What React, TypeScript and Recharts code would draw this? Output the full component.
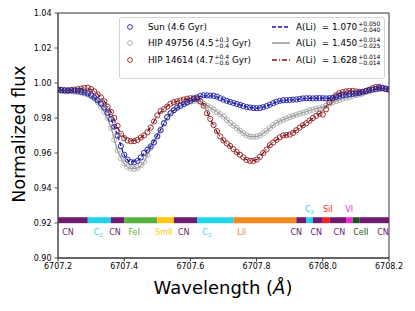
import { ComposedChart, Line, ReferenceArea, Scatter, XAxis, YAxis } from "recharts";

const FONT = "DejaVu Sans, sans-serif";

// 0.01 Å sampling of the observed spectra
const wave = Array.from({ length: 101 }, (_, i) => +(6707.2 + i * 0.01).toFixed(2));

const sunFlux = [
  0.9963, 0.996, 0.9958, 0.9957, 0.9958, 0.9956, 0.9955, 0.995, 0.9946, 0.994,
  0.993, 0.9917, 0.99, 0.9882, 0.986, 0.983, 0.9795, 0.975, 0.97, 0.964,
  0.959, 0.9562, 0.9548, 0.9546, 0.9555, 0.9575, 0.96, 0.9618, 0.9638, 0.966,
  0.9695, 0.973, 0.977, 0.9805, 0.9828, 0.9845, 0.986, 0.987, 0.988, 0.989,
  0.9898, 0.9908, 0.9918, 0.9926, 0.993, 0.9929, 0.9928, 0.9927, 0.9922, 0.9913,
  0.9905, 0.9898, 0.9892, 0.9886, 0.988, 0.9875, 0.9868, 0.9863, 0.986, 0.9857,
  0.9856, 0.9857, 0.9862, 0.9868, 0.9876, 0.9885, 0.9893, 0.9898, 0.9901, 0.9902,
  0.9903, 0.9905, 0.9906, 0.9909, 0.9912, 0.9913, 0.9913, 0.9912, 0.9913, 0.9914,
  0.9913, 0.9912, 0.9913, 0.9915, 0.992, 0.9925, 0.993, 0.9933, 0.9935, 0.9938,
  0.994, 0.9943, 0.9948, 0.9953, 0.9958, 0.9962, 0.9966, 0.997, 0.9972, 0.9968,
  0.9964,
];

const hip49756Flux = [
  0.9955, 0.9953, 0.9952, 0.9952, 0.9953, 0.995, 0.9948, 0.9945, 0.994, 0.9935,
  0.9925, 0.991, 0.989, 0.9865, 0.9835, 0.98, 0.9745, 0.9675, 0.9615, 0.957,
  0.954, 0.952, 0.9512, 0.9509, 0.9514, 0.953, 0.955, 0.959, 0.963, 0.9665,
  0.97, 0.9735, 0.977, 0.98, 0.9825, 0.9843, 0.9857, 0.9867, 0.9878, 0.9887,
  0.9893, 0.9897, 0.99, 0.9893, 0.9882, 0.987, 0.986, 0.9848, 0.9835, 0.9822,
  0.9808, 0.979, 0.9772, 0.9757, 0.9743, 0.9728, 0.9713, 0.9702, 0.9694, 0.9692,
  0.9694, 0.97, 0.9712, 0.9728, 0.9742, 0.9758, 0.9772, 0.9782, 0.979, 0.9797,
  0.9805, 0.9812, 0.9818, 0.9824, 0.983, 0.9836, 0.9843, 0.9848, 0.9853, 0.9856,
  0.9862, 0.987, 0.988, 0.9888, 0.9897, 0.9904, 0.991, 0.9915, 0.992, 0.9926,
  0.9931, 0.9935, 0.994, 0.9948, 0.9955, 0.996, 0.9962, 0.9965, 0.9966, 0.9964,
  0.996,
];

const hip14614Flux = [
  0.9962, 0.996, 0.9958, 0.9958, 0.996, 0.9962, 0.9965, 0.9968, 0.9972, 0.9973,
  0.9965, 0.9952, 0.9935, 0.9918, 0.9895, 0.9865, 0.9835, 0.98, 0.9755, 0.971,
  0.9685, 0.9672, 0.9667, 0.9668, 0.9675, 0.9688, 0.97, 0.9718, 0.9745, 0.978,
  0.9815, 0.984, 0.985, 0.9865, 0.9882, 0.989, 0.9895, 0.99, 0.9905, 0.991,
  0.9913, 0.9913, 0.991, 0.9895, 0.987, 0.9828, 0.9795, 0.976, 0.9725, 0.9695,
  0.9672, 0.9655, 0.964, 0.9622, 0.9605, 0.959, 0.9575, 0.956, 0.9555, 0.9555,
  0.9562, 0.9578, 0.96, 0.962, 0.9645, 0.966, 0.9675, 0.969, 0.97, 0.9703,
  0.9705, 0.9715, 0.973, 0.9745, 0.9758, 0.977, 0.9785, 0.98, 0.9812, 0.9825,
  0.982, 0.985, 0.989, 0.9912, 0.993, 0.9942, 0.9948, 0.9952, 0.9955, 0.9955,
  0.9952, 0.995, 0.995, 0.9955, 0.9962, 0.997, 0.9977, 0.9978, 0.9972, 0.9966,
  0.9962,
];

// synthetic fits, 0.02 Å sampling
const modelWave = Array.from({ length: 51 }, (_, i) => +(6707.2 + i * 0.02).toFixed(2));

const sunModel = [
  0.9962, 0.9958, 0.9957, 0.9954, 0.9946, 0.993, 0.99, 0.986, 0.9795, 0.97,
  0.959, 0.955, 0.9556, 0.9598, 0.964, 0.9698, 0.9768, 0.9826, 0.9858, 0.988,
  0.9898, 0.9916, 0.9927, 0.9927, 0.992, 0.9905, 0.9892, 0.988, 0.9868, 0.986,
  0.9857, 0.9862, 0.9876, 0.9892, 0.99, 0.9903, 0.9906, 0.9911, 0.9913, 0.9913,
  0.9913, 0.9913, 0.992, 0.9929, 0.9935, 0.994, 0.9948, 0.9957, 0.9965, 0.997,
  0.9966,
];

const hip49756Model = [
  0.9955, 0.9952, 0.9953, 0.9948, 0.994, 0.9925, 0.989, 0.9835, 0.9745, 0.9615,
  0.954, 0.9512, 0.9514, 0.955, 0.963, 0.97, 0.977, 0.9825, 0.9857, 0.9878,
  0.9893, 0.99, 0.9882, 0.986, 0.9835, 0.9808, 0.9772, 0.9743, 0.9713, 0.9694,
  0.9694, 0.9712, 0.9742, 0.9772, 0.979, 0.9805, 0.9818, 0.983, 0.9843, 0.9853,
  0.9862, 0.988, 0.9897, 0.991, 0.992, 0.9931, 0.994, 0.9955, 0.9962, 0.9966,
  0.996,
];

const hip14614Model = [
  0.9962, 0.9958, 0.996, 0.9965, 0.997, 0.9962, 0.9935, 0.9895, 0.9835, 0.9745,
  0.969, 0.967, 0.9676, 0.9702, 0.9748, 0.9812, 0.9852, 0.988, 0.9895, 0.9905,
  0.9912, 0.991, 0.9872, 0.9795, 0.9722, 0.967, 0.9638, 0.9604, 0.9574, 0.9556,
  0.9562, 0.96, 0.9645, 0.9675, 0.9698, 0.9708, 0.973, 0.9758, 0.9785, 0.9812,
  0.984, 0.9888, 0.993, 0.9948, 0.9955, 0.9953, 0.995, 0.996, 0.9975, 0.9972,
  0.9962,
];

// line list
const segStart = [6707.2, 6707.29, 6707.36, 6707.4, 6707.5, 6707.55, 6707.62, 6707.73, 6707.92, 6707.95, 6707.97, 6708.0, 6708.02, 6708.07, 6708.09, 6708.11];
const segEnd = [6707.29, 6707.36, 6707.4, 6707.5, 6707.55, 6707.62, 6707.73, 6707.92, 6707.95, 6707.97, 6708.0, 6708.02, 6708.07, 6708.09, 6708.11, 6708.2];
const segSpecies = ["CN", "C2", "CN", "FeI", "SmII", "CN", "C2", "LiI", "CN", "C2", "CN", "SiI", "CN", "VI", "CeII", "CN"];

const labelSpecies = ["CN", "C2", "CN", "FeI", "SmII", "CN", "C2", "LiI", "CN", "CN", "CN", "CeII", "CN", "C2", "SiI", "VI"];
const labelWave = [6707.23, 6707.317, 6707.372, 6707.43, 6707.52, 6707.58, 6707.645, 6707.755, 6707.92, 6707.98, 6708.05, 6708.115, 6708.182, 6707.955, 6708.015, 6708.08];
const labelAbove = [false, false, false, false, false, false, false, false, false, false, false, false, false, true, true, true];

const xTicks = [6707.2, 6707.4, 6707.6, 6707.8, 6708.0, 6708.2];
const yTicks = [0.9, 0.92, 0.94, 0.96, 0.98, 1.0, 1.02, 1.04];

const speciesColor: Record<string, string> = {
  CN: "#6d1b6f",
  C2: "#1fd5e6",
  FeI: "#58b23f",
  SmII: "#ffc80d",
  LiI: "#f5881f",
  SiI: "#ff1b1b",
  VI: "#ff25d9",
  CeII: "#105c1b",
};

const BLUE = "#1b1ba6";
const GRAY = "#a9a9a9";
const RED = "#8e1d1d";

const toPoints = (xs: number[], ys: number[]) => xs.map((x, i) => ({ x, y: ys[i] }));

const ring = (color: string) => (p: any) =>
  <circle cx={p.cx} cy={p.cy} r={2.6} fill="none" stroke={color} strokeWidth={0.9} />;

function Species({ name, x, y, color }: { name: string; x: number; y: number; color: string }) {
  if (name === "C2") {
    return (
      <text x={x - 3} y={y} fontSize={8} fill={color} fontFamily={FONT} dominantBaseline="central">
        C<tspan dy={2.5} fontSize={5.5}>2</tspan>
      </text>
    );
  }
  return (
    <text x={x} y={y} fontSize={8} fill={color} fontFamily={FONT} textAnchor="middle" dominantBaseline="central">
      {name}
    </text>
  );
}

function Stack({ up, down }: { up: string; down: string }) {
  return (
    <span style={{ display: "inline-block", verticalAlign: "middle", fontSize: 6, lineHeight: "6px", marginLeft: 1 }}>
      <span style={{ display: "block" }}>{up}</span>
      <span style={{ display: "block" }}>{down}</span>
    </span>
  );
}

function LegendRow({ top, color, label, dash, value, up, down }: any) {
  return (
    <>
      <svg style={{ position: "absolute", left: 6, top: top - 4 }} width={8} height={8}>
        <circle cx={4} cy={4} r={2.4} fill="none" stroke={color} strokeWidth={0.9} />
      </svg>
      <div style={{ position: "absolute", left: 28, top: top - 7, height: 14, display: "flex", alignItems: "center", whiteSpace: "nowrap" }}>
        {label}
      </div>
      <svg style={{ position: "absolute", left: 152, top: top - 3 }} width={18} height={6}>
        <line x1={0} y1={3} x2={18} y2={3} stroke={dash.color} strokeWidth={1.4} strokeDasharray={dash.pattern} />
      </svg>
      <div style={{ position: "absolute", left: 176, top: top - 7, height: 14, display: "flex", alignItems: "center", whiteSpace: "nowrap" }}>
        A(Li)&nbsp; = {value}
        <Stack up={up} down={down} />
      </div>
    </>
  );
}

export default function App() {
  const labels = labelSpecies.map((sp, i) => ({ x: labelWave[i], y: labelAbove[i] ? 0.9277 : 0.9147, sp }));

  return (
    <div style={{ position: "absolute", left: 0, top: 0, width: 415, height: 311, background: "#fff", fontFamily: FONT }}>
      <ComposedChart width={415} height={311} margin={{ top: 13, right: 26, bottom: 0, left: 0 }}>
        <XAxis
          dataKey="x"
          type="number"
          domain={[6707.2, 6708.2]}
          ticks={xTicks}
          tickFormatter={(v: number) => v.toFixed(1)}
          height={53}
          tickSize={3.5}
          tickMargin={2}
          stroke="#333"
          tick={{ fontSize: 8, fill: "#000", fontFamily: FONT }}
          allowDataOverflow
        />
        <YAxis
          type="number"
          domain={[0.9, 1.04]}
          ticks={yTicks}
          tickFormatter={(v: number) => v.toFixed(2)}
          width={58}
          tickSize={3.5}
          tickMargin={3}
          stroke="#555"
          tick={{ fontSize: 8, fill: "#000", fontFamily: FONT }}
          allowDataOverflow
        />
        <ReferenceArea x1={6707.2} x2={6708.2} y1={0.9} y2={1.04} fill="none" stroke="#333" strokeWidth={1} />
        {segSpecies.map((sp, i) => (
          <ReferenceArea
            key={i}
            x1={segStart[i]}
            x2={segEnd[i]}
            y1={0.9199}
            y2={0.9233}
            fill={speciesColor[sp]}
            fillOpacity={1}
            stroke="none"
          />
        ))}
        <Scatter data={toPoints(wave, hip49756Flux)} dataKey="y" shape={ring(GRAY)} isAnimationActive={false} />
        <Scatter data={toPoints(wave, hip14614Flux)} dataKey="y" shape={ring(RED)} isAnimationActive={false} />
        <Scatter data={toPoints(wave, sunFlux)} dataKey="y" shape={ring(BLUE)} isAnimationActive={false} />
        <Line data={toPoints(modelWave, hip49756Model)} dataKey="y" stroke="#8f8f8f" strokeWidth={1.2} dot={false} isAnimationActive={false} type="monotone" />
        <Line data={toPoints(modelWave, hip14614Model)} dataKey="y" stroke="#7a1010" strokeWidth={1.3} strokeDasharray="5 2 1 2" dot={false} isAnimationActive={false} type="monotone" />
        <Line data={toPoints(modelWave, sunModel)} dataKey="y" stroke="#14149a" strokeWidth={1.3} strokeDasharray="4 2" dot={false} isAnimationActive={false} type="monotone" />
        <Scatter
          data={labels}
          dataKey="y"
          isAnimationActive={false}
          shape={(p: any) => <Species name={p.payload.sp} x={p.cx} y={p.cy} color={speciesColor[p.payload.sp]} />}
        />
      </ComposedChart>

      <div
        style={{
          position: "absolute",
          left: 19,
          top: 134,
          transform: "translate(-50%, -50%) rotate(-90deg)",
          fontSize: 17.5,
          whiteSpace: "nowrap",
        }}
      >
        Normalized flux
      </div>
      <div
        style={{
          position: "absolute",
          left: 223,
          top: 287,
          transform: "translate(-50%, -50%)",
          fontSize: 18,
          whiteSpace: "nowrap",
        }}
      >
        Wavelength (<i>Å</i>)
      </div>

      <div
        style={{
          position: "absolute",
          left: 119,
          top: 17,
          width: 264,
          height: 60,
          border: "1px solid #d4d4d4",
          borderRadius: 3,
          background: "rgba(255,255,255,0.85)",
          fontSize: 8.8,
        }}
      >
        <LegendRow top={9} color={BLUE} label="Sun (4.6 Gyr)" dash={{ color: "#14149a", pattern: "4 2" }} value="1.070" up="+0.050" down="−0.040" />
        <LegendRow
          top={25}
          color={GRAY}
          label={<>HIP 49756 (4.5<Stack up="+0.3" down="−0.4" />&nbsp;Gyr)</>}
          dash={{ color: "#8f8f8f", pattern: "" }}
          value="1.450"
          up="+0.014"
          down="−0.025"
        />
        <LegendRow
          top={42}
          color={RED}
          label={<>HIP 14614 (4.7<Stack up="+0.4" down="−0.6" />&nbsp;Gyr)</>}
          dash={{ color: "#7a1010", pattern: "5 2 1 2" }}
          value="1.628"
          up="+0.014"
          down="−0.014"
        />
      </div>
    </div>
  );
}
